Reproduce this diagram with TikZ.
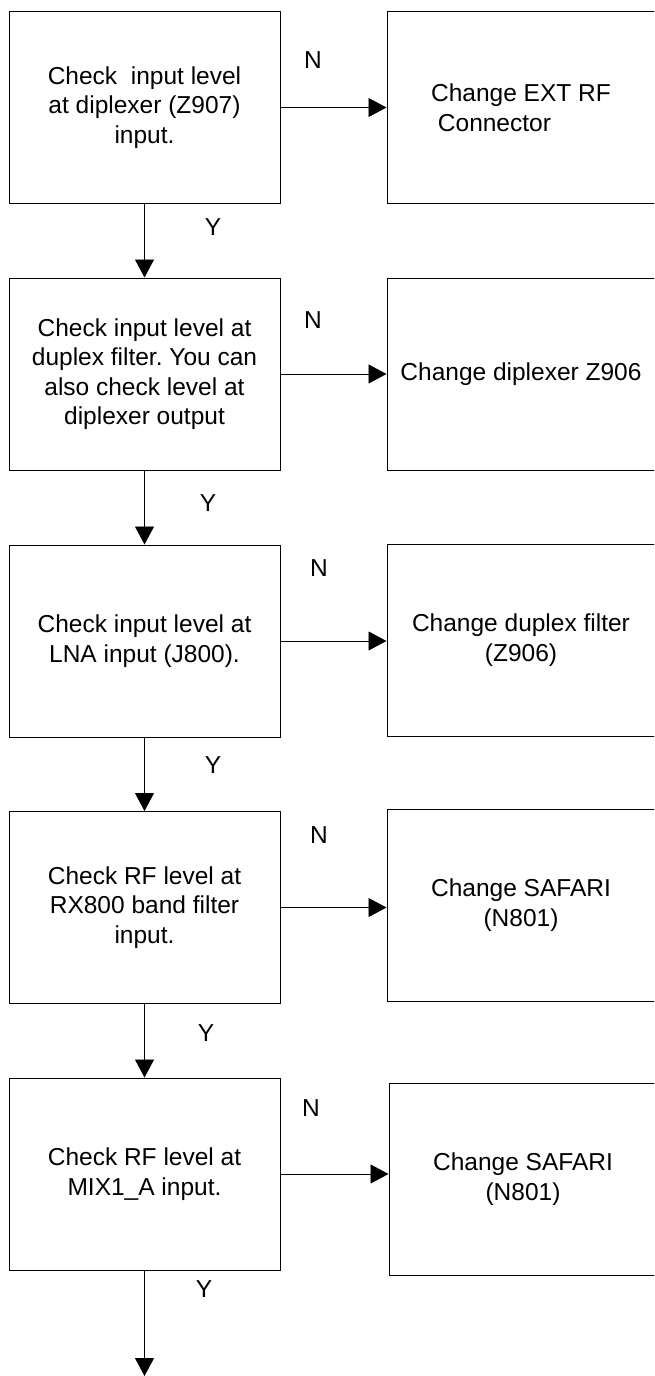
\documentclass[tikz,border=0pt]{standalone}
\usepackage{fontspec}
\setmainfont{Liberation Sans}
\usetikzlibrary{arrows.meta}
\frenchspacing

\begin{document}
\begin{tikzpicture}[x=1pt,y=-1pt,
  font=\fontsize{24.5}{29.5}\selectfont,
  check/.style={draw,line width=1pt,minimum width=271pt,minimum height=192pt,align=center,inner sep=0pt},
  fix/.style={draw,line width=1pt,minimum width=268pt,minimum height=192pt,align=center,inner sep=0pt},
  flow/.style={line width=0.9pt,-{Triangle[length=18pt,width=19pt]}},
  lbl/.style={inner sep=0pt}]
\useasboundingbox (0,0) rectangle (654,1376);
\clip (0,0) rectangle (654,1376);

% checks on the left, fixes on the right
\node[check] (c1) at (144.5,107.5) {Check\ \ input level\\at diplexer (Z907)\\input.};
\node[fix,align=left] (f1) at (521,107.5) {Change EXT RF\\\ Connector};
\node[check] (c2) at (144.5,374) {Check input level at\\duplex filter. You can\\also check level at\\diplexer output};
\node[fix] (f2) at (521,374) {Change diplexer Z906};
\node[check] (c3) at (144.5,641) {Check input level at\\LNA input (J800).};
\node[fix] (f3) at (521,640) {Change duplex filter\\(Z906)};
\node[check] (c4) at (144.5,907.5) {Check RF level at\\RX800 band filter\\input.};
\node[fix] (f4) at (521,905) {Change SAFARI\\(N801)};
\node[check] (c5) at (144.5,1174) {Check RF level at\\MIX1\_A input.};
\node[fix] (f5) at (523,1179) {Change SAFARI\\(N801)};
\coordinate (out) at (144.5,1376);

% N branches
\foreach \i in {1,...,5}
  \draw[flow] (c\i.east) -- (c\i.east -| f\i.west);
% Y branches
\foreach \i/\j in {1/2,2/3,3/4,4/5}
  \draw[flow] (c\i.south) -- (c\j.north);
\draw[flow] (c5.south) -- (out);

\node[lbl] (n1) at (313,60) {N};
\node[lbl] (n2) at (313,320) {N};
\node[lbl] (n3) at (319,568) {N};
\node[lbl] (n4) at (319,835) {N};
\node[lbl] (n5) at (311,1108) {N};
\node[lbl] (y1) at (213,227) {Y};
\node[lbl] (y2) at (208,503) {Y};
\node[lbl] (y3) at (213,765) {Y};
\node[lbl] (y4) at (206,1033) {Y};
\node[lbl] (y5) at (204,1289) {Y};
\end{tikzpicture}
\end{document}
